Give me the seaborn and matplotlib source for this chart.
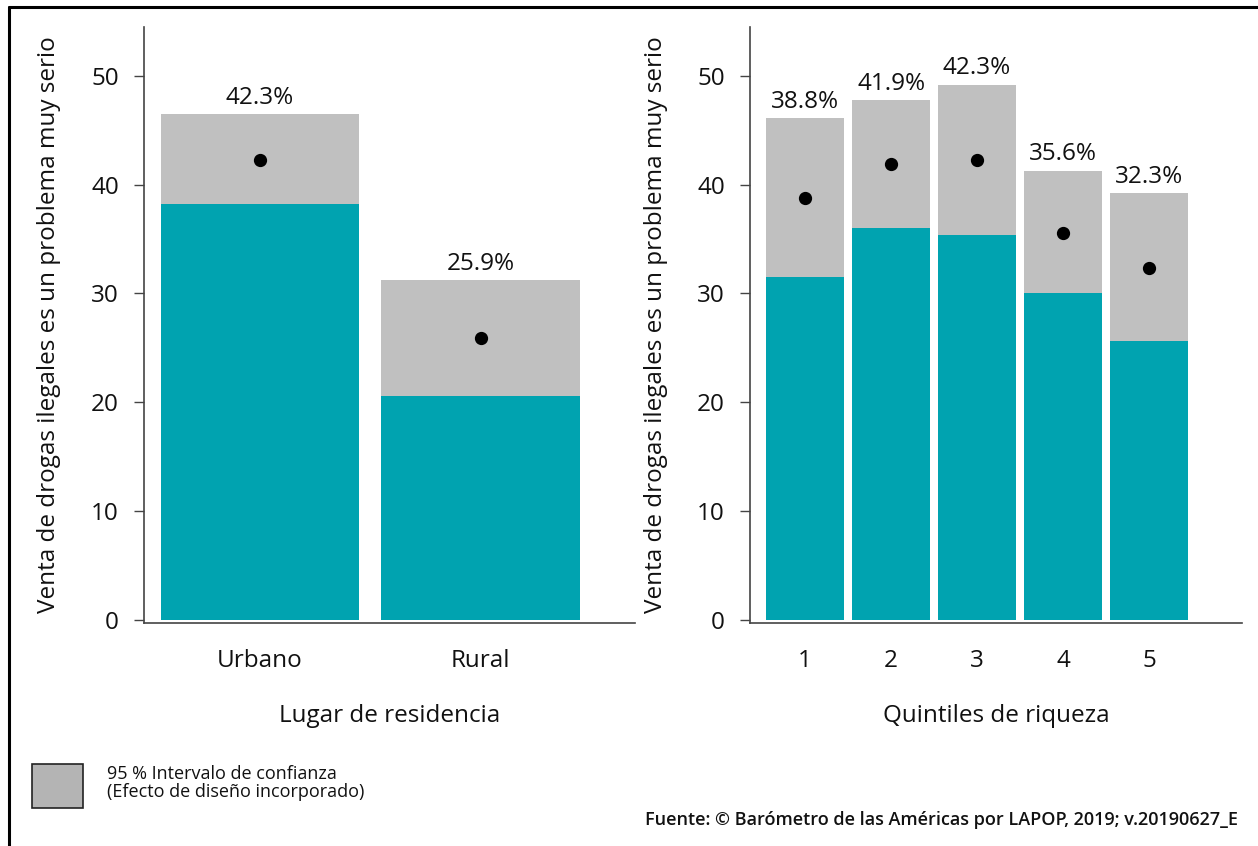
import matplotlib
matplotlib.use("Agg")
import matplotlib.pyplot as plt
import seaborn as sns
import pandas as pd
from matplotlib.lines import Line2D
from matplotlib.patches import Rectangle

# ---- data ----
lugar = ["Urbano", "Rural"]
lugar_est = [42.3, 25.9]
lugar_lo = [38.2, 20.6]
lugar_hi = [46.5, 31.2]

quintil = ["1", "2", "3", "4", "5"]
q_est = [38.8, 41.9, 42.3, 35.6, 32.3]
q_lo = [31.5, 36.0, 35.4, 30.0, 25.6]
q_hi = [46.1, 47.8, 49.2, 41.3, 39.2]

ylabel = "Venta de drogas ilegales es un problema muy serio"
TEAL = "#00A3B0"
GRAY = "#C0C0C0"
FS = 17.5
TXT = "#111111"

sns.set_style("white")
plt.rcParams["font.family"] = ["Open Sans", "DejaVu Sans"]
plt.rcParams.update({"text.color": TXT, "axes.labelcolor": TXT,
                     "xtick.color": TXT, "ytick.color": TXT})

fig = plt.figure(figsize=(12.58, 8.46), dpi=100)
ax1 = fig.add_axes([144/1258, 1-623/846, 491/1258, 596/846])
ax2 = fig.add_axes([750/1258, 1-623/846, 492/1258, 596/846])


def panel(ax, cats, est, lo, hi, xlabel, xlim, ylab_x):
    df = pd.DataFrame({"cat": cats, "est": est, "lo": lo, "hi": hi})
    sns.barplot(data=df, x="cat", y="hi", order=cats, color=GRAY, width=0.9,
                saturation=1, ax=ax, errorbar=None, linewidth=0)
    sns.barplot(data=df, x="cat", y="lo", order=cats, color=TEAL, width=0.9,
                saturation=1, ax=ax, errorbar=None, linewidth=0)
    sns.pointplot(data=df, x="cat", y="est", order=cats, color="black",
                  linestyle="none", markers="o", markersize=7.5, ax=ax,
                  errorbar=None)
    for i, (e, h) in enumerate(zip(est, hi)):
        ax.annotate(f"{e:.1f}%", (i, h), xytext=(0, 3), textcoords="offset points",
                    ha="center", va="bottom", fontsize=FS, color=TXT)
    ax.set_ylim(-0.3, 54.5)
    ax.set_xlim(*xlim)
    ax.set_yticks([0, 10, 20, 30, 40, 50])
    ax.set_ylabel(ylabel, fontsize=FS)
    ax.yaxis.set_label_coords(ylab_x, 0.5)
    ax.set_xlabel(xlabel, fontsize=FS, labelpad=22)
    ax.tick_params(axis="y", length=7, width=1, color="#444444", pad=11,
                   labelsize=FS, left=True)
    ax.tick_params(axis="x", length=0, pad=19, labelsize=FS)
    for s in ["top", "right"]:
        ax.spines[s].set_visible(False)
    for s in ["left", "bottom"]:
        ax.spines[s].set_color("#444444")
        ax.spines[s].set_linewidth(1.2)


panel(ax1, lugar, lugar_est, lugar_lo, lugar_hi, "Lugar de residencia",
      (-0.525, 1.70), (61-144)/491)
panel(ax2, quintil, q_est, q_lo, q_hi, "Quintiles de riqueza",
      (-0.64, 5.08), (668-750)/492)

# outer frame (left and top)
fig.add_artist(Line2D([9/1258, 9/1258], [0, 1-7/846], transform=fig.transFigure,
                      color="black", lw=2.2))
fig.add_artist(Line2D([9/1258, 1], [1-7/846, 1-7/846], transform=fig.transFigure,
                      color="black", lw=2.2))

# legend box
fig.add_artist(Rectangle((32/1258, 1-808/846), 51/1258, 44/846, transform=fig.transFigure,
                         facecolor="#B4B4B4", edgecolor="#222222", lw=1.2))
fig.text(107/1258, 1-774/846, "95 % Intervalo de confianza", fontsize=13,
         va="center", ha="left")
fig.text(107/1258, 1-792/846, "(Efecto de diseño incorporado)", fontsize=13,
         va="center", ha="left")

fig.text(1238/1258, 1-820/846,
         "Fuente: © Barómetro de las Américas por LAPOP, 2019; v.20190627_E",
         fontsize=13, ha="right", va="center", fontweight="semibold")

fig.savefig("out.png", dpi=100, facecolor="white")
